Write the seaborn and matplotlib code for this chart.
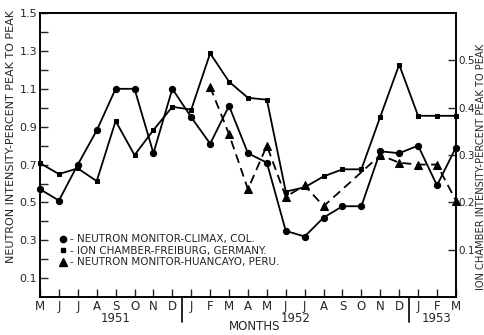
import matplotlib
matplotlib.use("Agg")
from matplotlib import pyplot as plt
from matplotlib.lines import Line2D
import numpy as np
import pandas as pd
import seaborn as sns

# month axis, May 1951 .. March 1953
months = ["M", "J", "J", "A", "S", "O", "N", "D",
          "J", "F", "M", "A", "M", "J", "J", "A", "S", "O", "N", "D",
          "J", "F", "M"]
years = ["1951", "1952", "1953"]

# neutron monitor, Climax (left axis)
climax = [0.57, 0.51, 0.70, 0.88, 1.10, 1.10, 0.76, 1.10,
          0.95, 0.81, 1.01, 0.76, 0.71, 0.35, 0.32, 0.42, 0.48, 0.48, 0.77, 0.76,
          0.80, 0.59, 0.79]

# ion chamber, Freiburg (right axis)
freiburg = [0.283, 0.260, 0.272, 0.245, 0.372, 0.300, 0.353, 0.402,
            0.396, 0.515, 0.455, 0.421, 0.417, 0.223, 0.232, 0.255, 0.270, 0.270, 0.381, 0.491,
            0.383, 0.383, 0.383]

# neutron monitor, Huancayo (left axis) - starts Feb 1952, no Sep/Oct 1952
huancayo_idx = [9, 10, 11, 12, 13, 14, 15, 18, 19, 20, 21, 22]
huancayo = [1.11, 0.86, 0.57, 0.80, 0.53, 0.59, 0.48, 0.75, 0.71, 0.70, 0.70, 0.51]

sns.set_style("ticks")
plt.rcParams["font.family"] = ["Liberation Sans Narrow", "DejaVu Sans"]

df_main = pd.DataFrame({"idx": np.arange(len(months)), "climax": climax, "freiburg": freiburg})
df_huan = pd.DataFrame({"idx": huancayo_idx, "val": huancayo})

fig = plt.figure(figsize=(4.85, 3.35), dpi=100)
ax = fig.add_axes([0.0825, 0.113, 0.8575, 0.848])
ax2 = ax.twinx()

sns.lineplot(data=df_main, x="idx", y="climax", ax=ax, color="black", lw=1.3,
             marker="o", markersize=4.5, markeredgecolor="black", clip_on=False)
sns.lineplot(data=df_huan, x="idx", y="val", ax=ax, color="black", lw=1.3,
             marker="^", markersize=5.5, markeredgecolor="black",
             dashes=(5, 3), clip_on=False)
sns.lineplot(data=df_main, x="idx", y="freiburg", ax=ax2, color="black", lw=1.3,
             marker="s", markersize=3.5, markeredgecolor="black", clip_on=False)

ax.set_xlim(0, len(months) - 1)
ax.set_ylim(0, 1.5)
ax2.set_ylim(0, 0.6)

ax.set_yticks(np.arange(0.1, 1.51, 0.2))
ax.set_yticks(np.arange(0.2, 1.41, 0.2), minor=True)
ax.set_yticklabels(["%.1f" % v for v in np.arange(0.1, 1.51, 0.2)], fontsize=8)
ax.tick_params(axis="y", which="both", direction="in", length=6, width=1, pad=2)

ax2.set_yticks(np.arange(0.1, 0.51, 0.1))
ax2.set_yticklabels(["%.1f" % v for v in np.arange(0.1, 0.51, 0.1)], fontsize=7.5)
ax2.tick_params(axis="y", direction="in", length=6, width=1, pad=1.5)

ax.set_xticks(np.arange(len(months)))
ax.set_xticklabels(months, fontsize=8.5)
ax.tick_params(axis="x", direction="in", length=6, width=1, pad=2)

for a in (ax, ax2):
    for s in a.spines.values():
        s.set_linewidth(1.2)
        s.set_color("black")

ax.set_xlabel("")
ax.set_ylabel("NEUTRON INTENSITY-PERCENT PEAK TO PEAK", fontsize=8)
ax.yaxis.set_label_coords(-0.058, 0.565)
ax2.set_ylabel("ION CHAMBER INTENSITY-PERCENT PEAK TO PEAK", fontsize=7.1)
ax2.yaxis.set_label_coords(1.048, 0.46)

# year separators and year labels below the month labels
trans = ax.get_xaxis_transform()
for xs in (7.5, 19.5):
    ax.plot([xs, xs], [0, -0.088], transform=trans, color="black", lw=1.2, clip_on=False)
for yr, xc in zip(years, (4, 13.5, 21)):
    ax.text(xc, -0.075, yr, transform=trans, ha="center", va="center", fontsize=8.5)
fig.text(0.526, 0.024, "MONTHS", ha="center", va="center", fontsize=8.5)

handles = [
    Line2D([], [], color="black", marker="o", markersize=4.5, linestyle="none"),
    Line2D([], [], color="black", marker="s", markersize=3.5, linestyle="none"),
    Line2D([], [], color="black", marker="^", markersize=5.5, linestyle="none"),
]
labels = ["- NEUTRON MONITOR-CLIMAX, COL.",
          "- ION CHAMBER-FREIBURG, GERMANY.",
          "- NEUTRON MONITOR-HUANCAYO, PERU."]
ax.legend(handles, labels, loc="upper left", bbox_to_anchor=(0.035, 0.24),
          frameon=False, fontsize=7.5, handlelength=0.6, handletextpad=0.4,
          labelspacing=0.15, borderpad=0)

fig.savefig("out.png", dpi=100)
